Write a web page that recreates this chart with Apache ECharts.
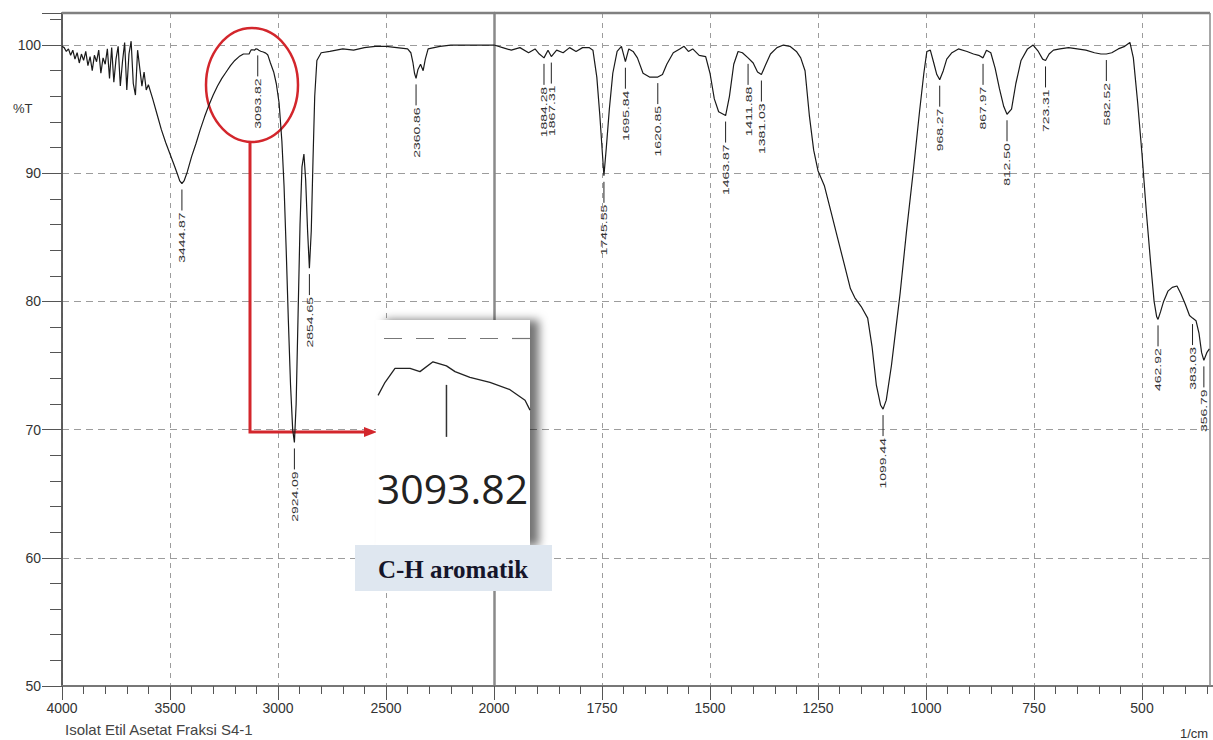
<!DOCTYPE html>
<html>
<head>
<meta charset="utf-8">
<script src="https://cdn.jsdelivr.net/npm/echarts@6.0.0/dist/echarts.min.js"></script>
<style>
html,body{margin:0;padding:0;background:#fff;}
#chart{width:1213px;height:740px;}
</style>
</head>
<body>
<div id="chart"></div>
<script>
// ---- Data (wavenumber in 1/cm, transmittance in %T) ----
const wnHigh = [4000,3990,3980,3970,3960,3950,3940,3930,3920,3910,3900,3890,3880,3870,3860,3850,3840,3830,3820,3810,3800,3790,3780,3770,3760,3750,3740,3730,3720,3710,3700,3690,3680,3670,3660,3650,3640,3630,3620,3610,3600,3580,3560,3540,3520,3500,3480,3465,3455,3444.87,3435,3420,3400,3380,3360,3340,3320,3300,3280,3260,3240,3220,3200,3180,3160,3145,3133.8,3129.7,3123.9,3115.1,3109.3,3101.7,3093.82,3088.8,3080.1,3068.4,3056.7,3047.9,3045,3035,3020,3008,2995,2982,2972,2962,2952,2942,2932,2924.09,2916,2907,2898,2889,2880,2872,2863,2854.65,2846,2838,2830,2820,2800,2760,2700,2650,2600,2550,2500,2450,2400,2385,2375,2368,2360.86,2352,2340,2328,2318,2305,2250,2200,2150,2100,2050,2000];
const tHigh = [99.9,99.8,99.5,99.7,99.2,99.6,98.9,99.4,98.6,99.3,98.8,99.5,98.4,99.1,98.0,99.2,98.7,99.6,97.8,99.0,98.5,99.7,97.4,99.8,97.1,98.9,99.9,96.8,98.7,100.2,96.5,99.3,100.3,97.0,96.1,99.6,98.2,96.8,97.9,96.5,96.9,95.8,94.6,93.4,92.4,91.5,90.6,89.9,89.4,89.2,89.4,90.1,91.3,92.3,93.4,94.4,95.3,96.1,96.8,97.4,97.9,98.4,98.8,99.1,99.3,99.3,99.30,99.46,99.63,99.63,99.59,99.71,99.66,99.59,99.52,99.46,99.37,99.24,99.12,98.6,97.9,97.0,95.5,92.5,89.0,84.0,78.5,73.5,70.0,69.0,72.0,79.0,86.0,90.5,91.5,89.5,85.5,82.6,85.5,91.0,96.0,98.8,99.4,99.5,99.7,99.6,99.8,99.9,99.9,99.8,99.7,99.4,98.6,97.8,97.4,98.1,98.5,98.0,98.9,99.7,99.9,100.0,100.0,100.0,100.0,100.0];

const wnLow = [2000,1980,1960,1940,1920,1905,1895,1884.28,1875,1867.31,1855,1840,1825,1810,1795,1780,1771,1762,1755,1749,1745.55,1740,1733,1725,1715,1705,1695.84,1688,1678,1668,1655,1640,1620.85,1610,1600,1585,1570,1560,1550,1540,1525,1510,1500,1490,1480,1463.87,1455,1445,1435,1425,1411.88,1400,1390,1381.03,1372,1360,1345,1330,1315,1300,1290,1280,1270,1260,1250,1235,1220,1205,1190,1175,1165,1150,1135,1125,1115,1105,1099.44,1092,1080,1070,1060,1045,1030,1015,1005,998,990,982,975,968.27,960,952,940,925,905,890,878,867.97,860,850,840,830,820,812.50,802,792,780,765,752,740,730,723.31,715,705,690,670,650,630,610,595,582.52,570,555,540,528,520,510,500,490,480,472,466,462.92,457,450,440,430,419,410,400,390,383.03,375,368,362,356.79,350,344];
const tLow = [100.0,99.8,99.6,99.8,99.4,99.7,99.3,99.0,99.6,99.1,99.6,99.4,99.8,99.5,99.8,99.8,99.6,97.5,94.5,91.5,89.8,92.0,95.0,97.8,99.5,99.9,98.7,99.7,99.5,99.0,97.8,97.5,97.5,97.7,98.5,99.4,99.7,99.9,99.5,99.7,99.2,99.1,97.8,95.8,94.8,94.5,96.0,98.5,99.5,99.4,99.0,98.6,97.9,97.7,98.4,99.3,99.8,100.0,99.9,99.5,99.0,98.0,94.5,91.8,90.2,89.0,87.0,85.0,83.0,81.0,80.3,79.6,78.7,76.5,73.5,71.9,71.6,72.3,75.0,77.8,80.6,85.5,90.0,94.8,97.8,99.5,99.6,98.6,97.7,97.3,98.0,98.9,99.4,99.7,99.5,99.3,99.2,99.0,99.6,99.4,98.2,96.6,95.2,94.6,95.0,97.0,98.8,99.7,100.0,99.5,98.9,98.8,99.3,99.6,99.7,99.8,99.7,99.6,99.4,99.3,99.3,99.4,99.7,99.9,100.2,99.0,95.5,91.5,87.0,83.0,80.0,78.8,78.6,79.2,80.0,80.8,81.1,81.2,80.6,79.8,78.9,78.7,78.5,77.5,76.0,75.4,76.0,76.3];

const peaksHigh = [3444.87, 3093.82, 2924.09, 2854.65, 2360.86];
const peaksLow = [1884.28, 1867.31, 1745.55, 1695.84, 1620.85, 1463.87, 1411.88, 1381.03, 1099.44, 968.27, 867.97, 812.50, 723.31, 582.52, 462.92, 383.03, 356.79];
const insetPeak = [3093.82];

const yTicksMajor = [50, 60, 70, 80, 90, 100];
const xTicksHigh = [4000, 3500, 3000, 2500, 2000];
const xTicksLow = [1750, 1500, 1250, 1000, 750, 500];

const captionText = 'Isolat Etil Asetat Fraksi S4-1';
const annotationText = 'C-H aromatik';

// ---- helpers ----
function pairs(wn, t) { return wn.map((w, i) => [w, t[i]]); }
function peakPoints(peaks, wn, t) { return peaks.map(p => [p, t[wn.indexOf(p)]]); }

const FONT = 'Liberation Sans, Arial, sans-serif';

function peakRender(params, api) {
  const p = api.coord([api.value(0), api.value(1)]);
  const label = Number(api.value(0)).toFixed(2);
  return {
    type: 'group',
    children: [
      { type: 'line', shape: { x1: p[0], y1: p[1] + 6, x2: p[0], y2: p[1] + 27 },
        style: { stroke: '#222', lineWidth: 1 } },
      { type: 'text', x: p[0], y: p[1] + 29, rotation: Math.PI / 2, scaleX: 1.55,
        style: { text: label, fill: '#333', font: '9px ' + FONT, align: 'right', verticalAlign: 'middle' } }
    ]
  };
}
function insetRender(params, api) {
  const p = api.coord([api.value(0), api.value(1)]);
  const label = Number(api.value(0)).toFixed(2);
  return {
    type: 'group',
    children: [
      { type: 'line', shape: { x1: p[0], y1: p[1] + 19, x2: p[0], y2: p[1] + 71 },
        style: { stroke: '#333', lineWidth: 1.5 } },
      { type: 'text', x: p[0] + 6, y: p[1] + 122,
        style: { text: label, fill: '#222', font: '41px "Open Sans", sans-serif', align: 'center', verticalAlign: 'middle' } }
    ]
  };
}

const gridLineColor = '#9c9c9c';
const labelFmtY = v => (yTicksMajor.indexOf(v) >= 0 ? String(v) : '');
const labelFmtHigh = v => (xTicksHigh.indexOf(v) >= 0 ? String(v) : '');
const labelFmtLow = v => (xTicksLow.indexOf(v) >= 0 ? String(v) : '');

const insetData = pairs(wnHigh, tHigh).filter(d => d[0] <= 3135 && d[0] >= 3045);

const chart = echarts.init(document.getElementById('chart'), null, { renderer: 'svg' });
chart.setOption({
  animation: false,
  backgroundColor: '#fff',
  title: {
    text: captionText, left: 60, top: 717,
    textStyle: { fontSize: 15, fontWeight: 'normal', color: '#444', fontFamily: FONT }
  },
  grid: [
    { left: 62, top: 13, width: 432, height: 673, outerBoundsMode: 'none', containLabel: false },
    { left: 494, top: 13, width: 756, height: 673, outerBoundsMode: 'none', containLabel: false },
    { left: 376, top: 338, width: 154, height: 82, outerBoundsMode: 'none', containLabel: false }
  ],
  xAxis: [
    { type: 'value', gridIndex: 0, min: 2000, max: 4000, interval: 500, inverse: true,
      axisLine: { show: true, lineStyle: { color: '#777', width: 2 } },
      axisTick: { show: true, length: 14, lineStyle: { color: '#555' } },
      minorTick: { show: true, splitNumber: 5, length: 8, lineStyle: { color: '#555' } },
      axisLabel: { formatter: labelFmtHigh, margin: 15, fontSize: 14, color: '#333', fontFamily: FONT },
      splitLine: { show: true, lineStyle: { color: gridLineColor, type: [5, 5], width: 1 } } },
    { type: 'value', gridIndex: 1, min: 250, max: 2000, interval: 250, inverse: true,
      axisLine: { show: true, lineStyle: { color: '#777', width: 2 } },
      axisTick: { show: true, length: 14, lineStyle: { color: '#555' } },
      minorTick: { show: true, splitNumber: 5, length: 8, lineStyle: { color: '#555' } },
      axisLabel: { formatter: labelFmtLow, margin: 15, fontSize: 14, color: '#333', fontFamily: FONT },
      splitLine: { show: true, lineStyle: { color: gridLineColor, type: [5, 5], width: 1 } } },
    { type: 'value', gridIndex: 2, min: 3045, max: 3135, inverse: true, show: false }
  ],
  yAxis: [
    { type: 'value', gridIndex: 0, min: 50, max: 102.5, interval: 10,
      axisLine: { show: true, lineStyle: { color: '#555', width: 1.5 } },
      axisTick: { show: true, length: 20, lineStyle: { color: '#555' } },
      axisLabel: { formatter: labelFmtY, margin: 21, fontSize: 14, color: '#333', fontFamily: FONT },
      splitLine: { show: true, lineStyle: { color: gridLineColor, type: [7, 5], width: 1 } } },
    { type: 'value', gridIndex: 0, min: 50, max: 102.5, interval: 2, position: 'left', offset: 0,
      axisLine: { show: true, lineStyle: { color: '#555', width: 1.5 } },
      axisTick: { show: true, length: 12, lineStyle: { color: '#555' } },
      axisLabel: { show: false }, splitLine: { show: false } },
    { type: 'value', gridIndex: 1, min: 50, max: 102.5, interval: 10,
      axisLine: { show: true, lineStyle: { color: '#8a8a8a', width: 2.5 } },
      axisTick: { show: false }, axisLabel: { show: false },
      splitLine: { show: true, lineStyle: { color: gridLineColor, type: [7, 5], width: 1 } } },
    { type: 'value', gridIndex: 2, min: 99.0, max: 100.0, show: false }
  ],
  series: [
    { type: 'line', name: 'high', xAxisIndex: 0, yAxisIndex: 0, data: pairs(wnHigh, tHigh),
      symbol: 'none', smooth: false, lineStyle: { color: '#1a1a1a', width: 1.2 }, z: 2 },
    { type: 'line', name: 'low', xAxisIndex: 1, yAxisIndex: 2, data: pairs(wnLow, tLow),
      symbol: 'none', smooth: false, lineStyle: { color: '#1a1a1a', width: 1.2 }, z: 2 },
    { type: 'custom', name: 'peaksHigh', xAxisIndex: 0, yAxisIndex: 0, clip: false,
      data: peakPoints(peaksHigh, wnHigh, tHigh), renderItem: peakRender, z: 2 },
    { type: 'custom', name: 'peaksLow', xAxisIndex: 1, yAxisIndex: 2, clip: false,
      data: peakPoints(peaksLow, wnLow, tLow), renderItem: peakRender, z: 2 },
    { type: 'line', name: 'inset', xAxisIndex: 2, yAxisIndex: 3, data: insetData,
      symbol: 'none', lineStyle: { color: '#222', width: 1.3 }, z: 6,
      markLine: { silent: true, symbol: 'none', label: { show: false },
        lineStyle: { color: '#777', type: [18, 14], width: 1.2 }, data: [{ yAxis: 100 }] } },
    { type: 'custom', name: 'insetPeak', xAxisIndex: 2, yAxisIndex: 3, clip: false,
      data: peakPoints(insetPeak, wnHigh, tHigh), renderItem: insetRender, z: 6 }
  ],
  graphic: [
    { type: 'line', shape: { x1: 62, y1: 13, x2: 1210, y2: 13 }, style: { stroke: '#808080', lineWidth: 2.5 }, z: 1 },
    { type: 'line', shape: { x1: 1210, y1: 13, x2: 1210, y2: 686 }, style: { stroke: '#8a8a8a', lineWidth: 1.5 }, z: 1 },
    { type: 'text', x: 13, y: 108, style: { text: '%T', fill: '#333', font: '13px ' + FONT, verticalAlign: 'middle' }, z: 1 },
    { type: 'text', x: 1180, y: 733, style: { text: '1/cm', fill: '#333', font: '13px ' + FONT, verticalAlign: 'middle' }, z: 1 },
    { type: 'ellipse', shape: { cx: 252, cy: 85, rx: 46, ry: 57 }, style: { stroke: '#d3262c', lineWidth: 2.5, fill: 'none' }, z: 1 },
    { type: 'polyline', shape: { points: [[250, 141], [250, 432], [368, 432]] }, style: { stroke: '#d3262c', lineWidth: 3, fill: 'none' }, z: 1 },
    { type: 'polygon', shape: { points: [[364, 427], [377, 432], [364, 437]] }, style: { fill: '#d3262c' }, z: 1 },
    { type: 'rect', shape: { x: 376, y: 320, width: 154, height: 226 },
      style: { fill: '#ffffff', shadowBlur: 10, shadowColor: 'rgba(0,0,0,0.55)', shadowOffsetX: 9, shadowOffsetY: 0 }, z: 4 },
    { type: 'rect', shape: { x: 355, y: 545, width: 197, height: 46 }, style: { fill: '#dfe7f0' }, z: 5 },
    { type: 'text', x: 453, y: 569, style: { text: annotationText, fill: '#15152a', font: 'bold 25px "Liberation Serif", "DejaVu Serif", serif', align: 'center', verticalAlign: 'middle' }, z: 6 }
  ]
});
</script>
</body>
</html>
